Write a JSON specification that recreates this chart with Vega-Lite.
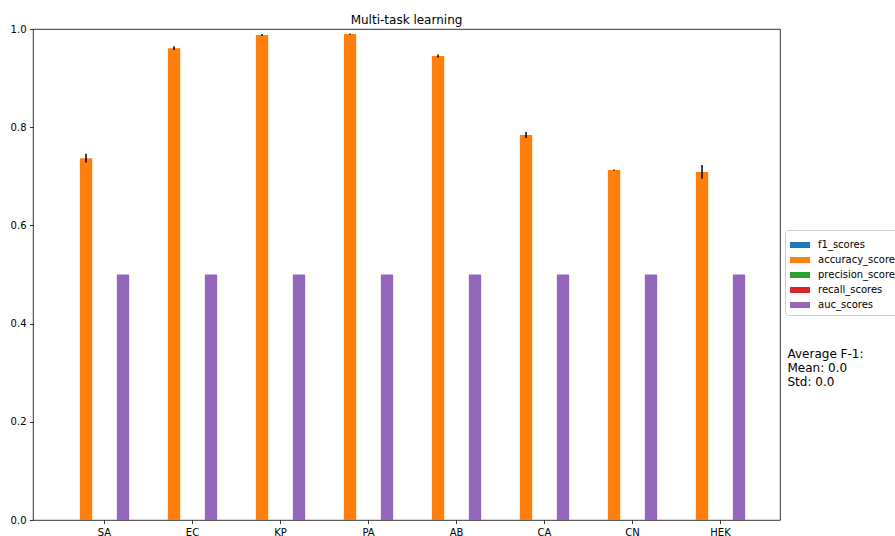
{
  "$schema": "https://vega.github.io/schema/vega-lite/v6.json",
  "width": 747,
  "height": 491,
  "autosize": {"type": "none"},
  "padding": {"left": 33, "top": 29, "right": 115, "bottom": 16},
  "background": "white",
  "title": {"text": "Multi-task learning", "font": "DejaVu Sans", "fontSize": 12, "fontWeight": "normal", "color": "black", "anchor": "middle", "offset": -3},
  "config": {
    "view": {"stroke": "black", "strokeWidth": 0.8},
    "axis": {"labelFont": "DejaVu Sans", "labelFontSize": 10, "labelColor": "black", "tickColor": "black", "tickSize": 3.5, "tickWidth": 0.8, "domain": false, "labelPadding": 3.5, "grid": false, "titleFont": "DejaVu Sans"},
    "legend": {"labelFont": "DejaVu Sans", "labelFontSize": 10, "labelColor": "black"}
  },
  "data": {"values": [
    {"task": "SA", "metric": "f1_scores", "value": 0, "std": 0},
    {"task": "SA", "metric": "accuracy_scores", "value": 0.737, "std": 0.009},
    {"task": "SA", "metric": "precision_scores", "value": 0, "std": 0},
    {"task": "SA", "metric": "recall_scores", "value": 0, "std": 0},
    {"task": "SA", "metric": "auc_scores", "value": 0.5, "std": 0},
    {"task": "EC", "metric": "f1_scores", "value": 0, "std": 0},
    {"task": "EC", "metric": "accuracy_scores", "value": 0.961, "std": 0.004},
    {"task": "EC", "metric": "precision_scores", "value": 0, "std": 0},
    {"task": "EC", "metric": "recall_scores", "value": 0, "std": 0},
    {"task": "EC", "metric": "auc_scores", "value": 0.5, "std": 0},
    {"task": "KP", "metric": "f1_scores", "value": 0, "std": 0},
    {"task": "KP", "metric": "accuracy_scores", "value": 0.988, "std": 0.002},
    {"task": "KP", "metric": "precision_scores", "value": 0, "std": 0},
    {"task": "KP", "metric": "recall_scores", "value": 0, "std": 0},
    {"task": "KP", "metric": "auc_scores", "value": 0.5, "std": 0},
    {"task": "PA", "metric": "f1_scores", "value": 0, "std": 0},
    {"task": "PA", "metric": "accuracy_scores", "value": 0.99, "std": 0.001},
    {"task": "PA", "metric": "precision_scores", "value": 0, "std": 0},
    {"task": "PA", "metric": "recall_scores", "value": 0, "std": 0},
    {"task": "PA", "metric": "auc_scores", "value": 0.5, "std": 0},
    {"task": "AB", "metric": "f1_scores", "value": 0, "std": 0},
    {"task": "AB", "metric": "accuracy_scores", "value": 0.945, "std": 0.003},
    {"task": "AB", "metric": "precision_scores", "value": 0, "std": 0},
    {"task": "AB", "metric": "recall_scores", "value": 0, "std": 0},
    {"task": "AB", "metric": "auc_scores", "value": 0.5, "std": 0},
    {"task": "CA", "metric": "f1_scores", "value": 0, "std": 0},
    {"task": "CA", "metric": "accuracy_scores", "value": 0.784, "std": 0.006},
    {"task": "CA", "metric": "precision_scores", "value": 0, "std": 0},
    {"task": "CA", "metric": "recall_scores", "value": 0, "std": 0},
    {"task": "CA", "metric": "auc_scores", "value": 0.5, "std": 0},
    {"task": "CN", "metric": "f1_scores", "value": 0, "std": 0},
    {"task": "CN", "metric": "accuracy_scores", "value": 0.713, "std": 0.001},
    {"task": "CN", "metric": "precision_scores", "value": 0, "std": 0},
    {"task": "CN", "metric": "recall_scores", "value": 0, "std": 0},
    {"task": "CN", "metric": "auc_scores", "value": 0.5, "std": 0},
    {"task": "HEK", "metric": "f1_scores", "value": 0, "std": 0},
    {"task": "HEK", "metric": "accuracy_scores", "value": 0.709, "std": 0.014},
    {"task": "HEK", "metric": "precision_scores", "value": 0, "std": 0},
    {"task": "HEK", "metric": "recall_scores", "value": 0, "std": 0},
    {"task": "HEK", "metric": "auc_scores", "value": 0.5, "std": 0}
  ]},
  "encoding": {
    "x": {"field": "task", "type": "nominal", "sort": null,
      "scale": {"paddingInner": 0, "paddingOuter": 0.2443, "align": 0.64},
      "axis": {"title": null, "labelAngle": 0}},
    "xOffset": {"field": "metric", "type": "nominal",
      "scale": {"domain": ["f1_scores", "accuracy_scores", "precision_scores", "recall_scores", "auc_scores", "_"], "paddingInner": 0, "paddingOuter": 0.571}}
  },
  "layer": [
    {
      "mark": {"type": "bar"},
      "encoding": {
        "y": {"field": "value", "type": "quantitative",
          "scale": {"domain": [0, 1], "nice": false, "zero": true},
          "axis": {"title": null, "values": [0, 0.2, 0.4, 0.6, 0.8, 1.0], "format": ".1f"}},
        "color": {"field": "metric", "type": "nominal",
          "scale": {"domain": ["f1_scores", "accuracy_scores", "precision_scores", "recall_scores", "auc_scores"], "range": ["#1f77b4", "#ff7f0e", "#2ca02c", "#d62728", "#9467bd"]},
          "legend": {"title": null, "orient": "none", "legendX": 752, "legendY": 201, "padding": 5, "strokeColor": "#cccccc", "fillColor": "white", "cornerRadius": 3, "rowPadding": 0, "labelOffset": 8, "symbolType": "M-1,-0.3L1,-0.3L1,0.3L-1,0.3Z", "symbolSize": 400, "symbolStrokeWidth": 0}}
      }
    },
    {
      "transform": [{"filter": "datum.metric === 'accuracy_scores'"}],
      "mark": {"type": "errorbar", "color": "black", "thickness": 1.5},
      "encoding": {
        "y": {"field": "value", "type": "quantitative",
          "axis": {"orient": "right", "title": ["Average F-1:", "Mean: 0.0", "Std: 0.0"], "labels": false, "ticks": false, "domain": false, "titleAngle": 0, "titleAlign": "left", "titleBaseline": "top", "titleX": 7, "titleY": 319, "titleFontSize": 12, "titleFontWeight": "normal", "titleColor": "black", "titleLineHeight": 14}},
        "yError": {"field": "std"}
      }
    }
  ],
  "resolve": {"axis": {"y": "independent"}}
}
